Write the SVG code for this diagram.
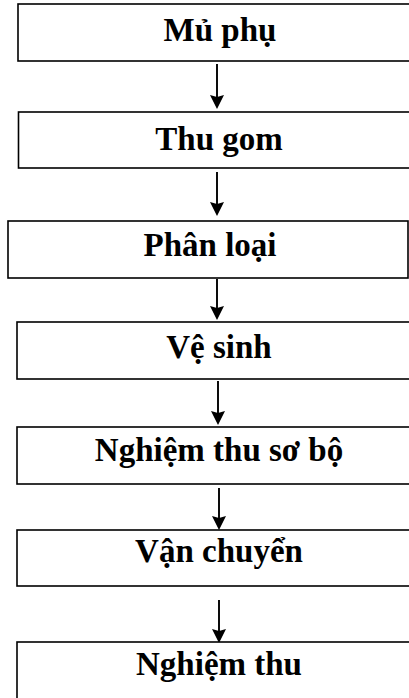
<svg xmlns="http://www.w3.org/2000/svg" width="409" height="698" viewBox="0 0 409 698">
  <defs>
    <style>
      .box { fill: #ffffff; stroke: #000000; stroke-width: 1.6; }
      .label { font-family: "Liberation Serif", "Times New Roman", serif; font-weight: bold; font-size: 33px; fill: #000000; text-anchor: middle; }
      .flow { stroke: #000000; stroke-width: 1.9; fill: none; marker-end: url(#head); }
    </style>
    <marker id="head" markerUnits="userSpaceOnUse" markerWidth="14" markerHeight="14" refX="12" refY="7" orient="auto">
      <path d="M0,0 L14,7 L0,14 L2,7 Z" fill="#000000"/>
    </marker>
  </defs>
  <rect width="409" height="698" fill="#ffffff"/>

  <g id="connectors">
    <line class="flow" x1="217" y1="64" x2="217" y2="107"/>
    <line class="flow" x1="217" y1="172" x2="217" y2="214"/>
    <line class="flow" x1="217" y1="279" x2="217" y2="318"/>
    <line class="flow" x1="218" y1="381" x2="218" y2="423"/>
    <line class="flow" x1="219" y1="488" x2="219" y2="528"/>
    <line class="flow" x1="219" y1="600" x2="219" y2="641"/>
  </g>

  <g id="mu-phu">
    <rect class="box" x="18" y="4" width="396" height="57"/>
    <text class="label" x="220" y="41">Mủ phụ</text>
  </g>
  <g id="thu-gom">
    <rect class="box" x="18.5" y="112" width="396" height="56"/>
    <text class="label" x="219" y="150">Thu gom</text>
  </g>
  <g id="phan-loai">
    <rect class="box" x="8" y="221" width="400" height="57"/>
    <text class="label" x="210" y="256">Phân loại</text>
  </g>
  <g id="ve-sinh">
    <rect class="box" x="17" y="322" width="397" height="57"/>
    <text class="label" x="219" y="358">Vệ sinh</text>
  </g>
  <g id="nghiem-thu-so-bo">
    <rect class="box" x="17" y="427" width="397" height="57"/>
    <text class="label" x="219" y="461">Nghiệm thu sơ bộ</text>
  </g>
  <g id="van-chuyen">
    <rect class="box" x="17" y="530" width="397" height="56"/>
    <text class="label" x="219" y="562">Vận chuyển</text>
  </g>
  <g id="nghiem-thu">
    <rect class="box" x="17" y="642" width="397" height="70"/>
    <text class="label" x="219" y="675">Nghiệm thu</text>
  </g>
</svg>
